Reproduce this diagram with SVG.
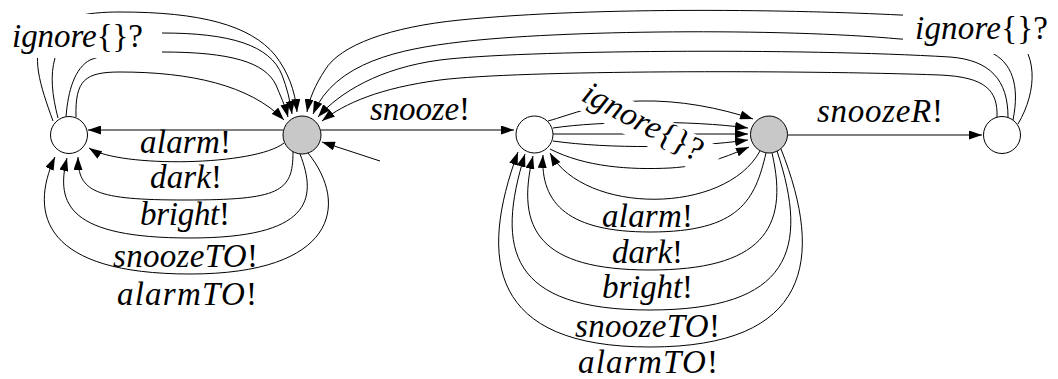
<svg xmlns="http://www.w3.org/2000/svg" width="1058" height="379" viewBox="0 0 1058 379">
<defs>
<marker id="ah" viewBox="0 0 13 9" refX="13" refY="4.5" markerWidth="13" markerHeight="9" orient="auto" markerUnits="userSpaceOnUse"><path d="M0,0 L13,4.5 L0,9 z" fill="#000"/></marker>
<style>
.e{fill:none;stroke:#000;stroke-width:1;marker-end:url(#ah)}
.n{stroke:#000;stroke-width:1}
.w{fill:#fff}
.g{fill:#c8c8c8}
.bg{fill:#fff;stroke:none}
.t{font-family:'Liberation Serif','DejaVu Serif',serif;font-size:33px;fill:#000}
.i{font-style:italic}
</style>
</defs>
<rect width="1058" height="379" fill="#fff"/>
<g id="connectors">
<path class="e" d="M283,130 L88,130"/>
<path class="e" d="M284,143 C255,166 120,168 89,148"/>
<path class="e" d="M293,152 C293,192 280,200 185,200 C95,200 78,192 78,157"/>
<path class="e" d="M300,154 C318,200 310,238 190,238 C70,238 55,205 67,158"/>
<path class="e" d="M308,153 C350,205 335,274 190,274 C45,274 28,215 55,157"/>
<path class="e" d="M76,117 C75,80 85,72 120,72 C190,72 250,85 284,120"/>
<path class="e" d="M66,117 C68,90 75,68 90,60 C110,52 130,52 162,52 C230,52 265,62 276,85 C280,95 285,105 288,117"/>
<path class="e" d="M58,118 C52,95 50,75 55,58 C62,38 100,33 162,33 C230,33 270,45 282,75 C287,88 290,100 292,114"/>
<path class="e" d="M53,121 C40,85 30,55 45,35 C60,17 85,12 120,12 C200,12 250,25 275,55 C288,72 295,90 297,112"/>
<path class="e" d="M380,161 L322,142"/>
<path class="e" d="M321,130 L514,130"/>
<path class="e" d="M548,121 C570,115 600,102 640,101 C680,100 720,108 753,119"/>
<path class="e" d="M553,128 C600,121 690,120 748,128"/>
<path class="e" d="M553,134 L748,134"/>
<path class="e" d="M553,141 C610,149 690,148 748,140"/>
<path class="e" d="M550,149 C585,167 630,170 670,168 C705,166 728,156 749,147"/>
<path class="e" d="M760,151 C725,215 585,215 550,153"/>
<path class="e" d="M766,153 C755,200 740,232 650,232 C570,232 540,205 543,155"/>
<path class="e" d="M772,153 C790,230 760,270 650,270 C540,270 515,230 533,156"/>
<path class="e" d="M777,151 C810,250 790,310 650,310 C510,310 495,250 525,154"/>
<path class="e" d="M781,149 C825,260 810,347 650,347 C490,347 478,260 518,152"/>
<path class="e" d="M788,135 L982,135"/>
<path class="e" d="M997,117 C998,90 985,77 940,75 C800,70 520,70 440,80 C380,88 345,103 322,121"/>
<path class="e" d="M1008,117 C1008,80 990,60 950,57 C800,48 520,50 440,60 C380,68 340,92 318,117"/>
<path class="e" d="M1013,120 C1020,85 1012,62 990,52 C968,42 935,40 900,39 C780,28 560,30 460,42 C400,49 335,62 313,114"/>
<path class="e" d="M1018,124 C1038,90 1038,50 1010,33 C990,20 950,16 900,15 C800,10 600,6 460,20 C390,27 340,45 325,70 C315,85 309,100 307,112"/>
<rect class="bg" x="0" y="14" width="162" height="44"/>
<rect class="bg" x="903" y="2" width="150" height="52"/>
<text class="t" x="12" y="47" textLength="131"><tspan class="i">ignore</tspan>{}?</text>
<text class="t" x="915" y="39" textLength="133"><tspan class="i">ignore</tspan>{}?</text>
<text class="t" x="140" y="153" textLength="91"><tspan class="i">alarm</tspan>!</text>
<text class="t" x="150" y="188" textLength="72"><tspan class="i">dark</tspan>!</text>
<text class="t" x="140" y="225" textLength="90"><tspan class="i">bright</tspan>!</text>
<text class="t" x="113" y="267" textLength="145"><tspan class="i">snoozeTO</tspan>!</text>
<text class="t" x="117" y="305" textLength="140"><tspan class="i">alarmTO</tspan>!</text>
<text class="t" x="370" y="120" textLength="100"><tspan class="i">snooze</tspan>!</text>
<text class="t" x="817" y="122" textLength="126"><tspan class="i">snoozeR</tspan>!</text>
<g transform="translate(580,100) rotate(28)">
<rect class="bg" x="-6" y="-24" width="156" height="33.5"/>
<text class="t" x="0" y="0" textLength="132"><tspan class="i">ignore</tspan>{}?</text>
</g>
<text class="t" x="602" y="227" textLength="91"><tspan class="i">alarm</tspan>!</text>
<text class="t" x="612" y="263" textLength="71"><tspan class="i">dark</tspan>!</text>
<text class="t" x="602" y="298" textLength="91"><tspan class="i">bright</tspan>!</text>
<text class="t" x="575" y="337" textLength="145"><tspan class="i">snoozeTO</tspan>!</text>
<text class="t" x="578" y="373" textLength="140"><tspan class="i">alarmTO</tspan>!</text>
</g>
<g id="nA"><circle class="n w" cx="69" cy="135" r="18.5"/></g>
<g id="nB"><circle class="n g" cx="302" cy="135" r="19"/></g>
<g id="nC"><circle class="n w" cx="534.5" cy="134.5" r="18.5"/></g>
<g id="nD"><circle class="n g" cx="769" cy="134.5" r="18.5"/></g>
<g id="nE"><circle class="n w" cx="1002" cy="135" r="18.5"/></g>
</svg>
